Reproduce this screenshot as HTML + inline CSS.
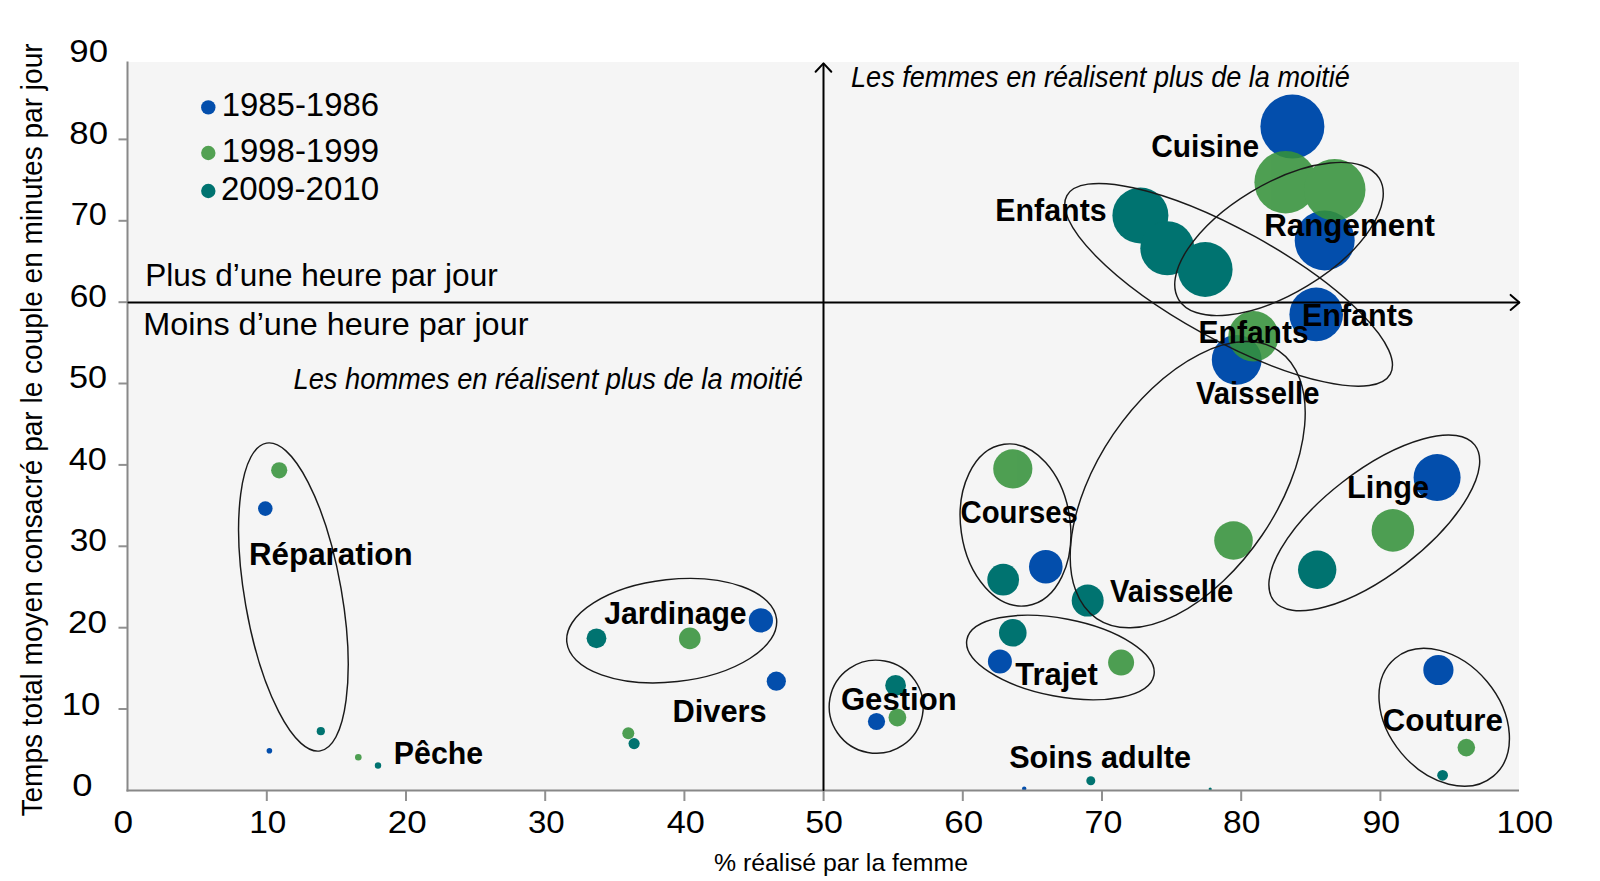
<!DOCTYPE html><html><head><meta charset="utf-8"><style>html,body{margin:0;padding:0;background:#fff;overflow:hidden}svg{display:block}text{font-family:"Liberation Sans", Arial, sans-serif}</style></head><body>
<svg width="1600" height="881" viewBox="0 0 1600 881">
<rect width="1600" height="881" fill="#fff"/>
<rect x="127.5" y="62" width="1391.5" height="728.4" fill="#f5f5f5"/>
<circle cx="1292.4" cy="126.6" r="32.0" fill="#034eac"/>
<circle cx="1324.7" cy="240.4" r="30.0" fill="#034eac"/>
<circle cx="1316.2" cy="314.4" r="26.8" fill="#034eac"/>
<circle cx="1236.7" cy="359.8" r="24.9" fill="#034eac"/>
<circle cx="1437.1" cy="477.6" r="23.5" fill="#034eac"/>
<circle cx="1045.8" cy="566.7" r="16.8" fill="#034eac"/>
<circle cx="999.9" cy="661.6" r="12.0" fill="#034eac"/>
<circle cx="760.9" cy="620.4" r="12.1" fill="#034eac"/>
<circle cx="776.3" cy="681.2" r="9.6" fill="#034eac"/>
<circle cx="876.5" cy="721.5" r="8.6" fill="#034eac"/>
<circle cx="1438.4" cy="670.0" r="15.1" fill="#034eac"/>
<circle cx="265.3" cy="508.6" r="7.3" fill="#034eac"/>
<circle cx="269.4" cy="750.8" r="2.8" fill="#034eac"/>
<circle cx="1024.2" cy="788.8" r="2.2" fill="#034eac"/>
<g opacity="0.87">
<circle cx="1285.6" cy="182.2" r="31.2" fill="#35923a"/>
<circle cx="1334.7" cy="189.8" r="30.8" fill="#35923a"/>
<circle cx="1253.5" cy="336.2" r="25.2" fill="#35923a"/>
<circle cx="1233.5" cy="540.5" r="19.3" fill="#35923a"/>
<circle cx="1392.9" cy="530.4" r="21.3" fill="#35923a"/>
<circle cx="1012.8" cy="468.8" r="19.6" fill="#35923a"/>
<circle cx="1121.1" cy="662.6" r="13.0" fill="#35923a"/>
<circle cx="689.8" cy="638.4" r="10.8" fill="#35923a"/>
<circle cx="897.4" cy="717.5" r="8.9" fill="#35923a"/>
<circle cx="279.2" cy="470.3" r="8.1" fill="#35923a"/>
<circle cx="628.3" cy="733.3" r="6.0" fill="#35923a"/>
<circle cx="358.3" cy="757.3" r="3.3" fill="#35923a"/>
<circle cx="1466.3" cy="747.6" r="8.8" fill="#35923a"/>
</g>
<circle cx="1140.4" cy="215.5" r="28.0" fill="#007370"/>
<circle cx="1167.3" cy="248.3" r="27.0" fill="#007370"/>
<circle cx="1205.2" cy="269.5" r="27.4" fill="#007370"/>
<circle cx="1003.2" cy="579.7" r="15.9" fill="#007370"/>
<circle cx="1087.7" cy="600.6" r="16.0" fill="#007370"/>
<circle cx="1317.2" cy="569.8" r="19.2" fill="#007370"/>
<circle cx="1012.8" cy="632.8" r="13.8" fill="#007370"/>
<circle cx="895.6" cy="685.4" r="10.4" fill="#007370"/>
<circle cx="596.5" cy="638.3" r="9.9" fill="#007370"/>
<circle cx="634.1" cy="743.6" r="5.6" fill="#007370"/>
<circle cx="320.8" cy="731.2" r="4.1" fill="#007370"/>
<circle cx="378.0" cy="765.5" r="3.2" fill="#007370"/>
<circle cx="1090.8" cy="780.7" r="4.5" fill="#007370"/>
<circle cx="1442.6" cy="775.3" r="5.4" fill="#007370"/>
<circle cx="1210.2" cy="789.0" r="1.6" fill="#007370"/>
<g stroke="#888" stroke-width="2" fill="none">
<line x1="127.5" y1="61.5" x2="127.5" y2="791.4"/>
<line x1="126.5" y1="790.4" x2="1519" y2="790.4"/>
</g>
<g stroke="#909090" stroke-width="2">
<line x1="118.5" y1="709.0" x2="127" y2="709.0"/>
<line x1="118.5" y1="627.7" x2="127" y2="627.7"/>
<line x1="118.5" y1="546.3" x2="127" y2="546.3"/>
<line x1="118.5" y1="464.9" x2="127" y2="464.9"/>
<line x1="118.5" y1="383.5" x2="127" y2="383.5"/>
<line x1="118.5" y1="302.2" x2="127" y2="302.2"/>
<line x1="118.5" y1="220.8" x2="127" y2="220.8"/>
<line x1="118.5" y1="139.4" x2="127" y2="139.4"/>
<line x1="266.8" y1="791" x2="266.8" y2="801"/>
<line x1="406.0" y1="791" x2="406.0" y2="801"/>
<line x1="545.2" y1="791" x2="545.2" y2="801"/>
<line x1="684.4" y1="791" x2="684.4" y2="801"/>
<line x1="823.6" y1="791" x2="823.6" y2="801"/>
<line x1="962.8" y1="791" x2="962.8" y2="801"/>
<line x1="1102.0" y1="791" x2="1102.0" y2="801"/>
<line x1="1241.2" y1="791" x2="1241.2" y2="801"/>
<line x1="1380.4" y1="791" x2="1380.4" y2="801"/>
</g>
<g stroke="#000" stroke-width="2" fill="none" stroke-linecap="round" stroke-linejoin="round">
<line x1="128.5" y1="302.4" x2="1519" y2="302.4"/>
<polyline points="1510.6,294.9 1519.4,302.4 1510.6,309.9"/>
<line x1="823.5" y1="790" x2="823.5" y2="64"/>
<polyline points="815.6,71.7 823.5,63.4 831.3,71.7"/>
</g>
<g stroke="#1a1a1a" stroke-width="1.45" fill="none">
<ellipse cx="293.4" cy="597.0" rx="156.2" ry="48.4" transform="rotate(80.1 293.4 597.0)"/>
<ellipse cx="671.7" cy="630.7" rx="105.5" ry="51.2" transform="rotate(-6.3 671.7 630.7)"/>
<ellipse cx="876.2" cy="706.7" rx="47.0" ry="46.5" transform="rotate(10.5 876.2 706.7)"/>
<ellipse cx="1015.5" cy="525.0" rx="81.5" ry="54.7" transform="rotate(81.9 1015.5 525.0)"/>
<ellipse cx="1060.4" cy="657.5" rx="95.2" ry="39.0" transform="rotate(10.8 1060.4 657.5)"/>
<ellipse cx="1444.2" cy="717.3" rx="76.7" ry="55.8" transform="rotate(50.1 1444.2 717.3)"/>
<ellipse cx="1374.3" cy="522.9" rx="127.1" ry="51.7" transform="rotate(-37.7 1374.3 522.9)"/>
<ellipse cx="1187.7" cy="484.7" rx="161.9" ry="89.9" transform="rotate(-55.8 1187.7 484.7)"/>
<ellipse cx="1228.6" cy="284.8" rx="184.7" ry="54.9" transform="rotate(28.9 1228.6 284.8)"/>
<ellipse cx="1279.0" cy="239.0" rx="117.2" ry="54.8" transform="rotate(-31.1 1279.0 239.0)"/>
</g>
<circle cx="208.3" cy="107.4" r="7.2" fill="#034eac"/>
<circle cx="208.3" cy="153.0" r="7.2" fill="#52a152"/>
<circle cx="208.3" cy="191.0" r="7.2" fill="#007370"/>
<text x="221.71" y="116.2" font-size="32.5" font-weight="normal" font-style="normal" textLength="157.35" lengthAdjust="spacingAndGlyphs" fill="#000">1985-1986</text>
<text x="221.71" y="161.9" font-size="32.5" font-weight="normal" font-style="normal" textLength="157.35" lengthAdjust="spacingAndGlyphs" fill="#000">1998-1999</text>
<text x="220.94" y="200.3" font-size="32.5" font-weight="normal" font-style="normal" textLength="158.12" lengthAdjust="spacingAndGlyphs" fill="#000">2009-2010</text>
<text x="69.38" y="62.2" font-size="31.5" font-weight="normal" font-style="normal" textLength="38.66" lengthAdjust="spacingAndGlyphs" fill="#000">90</text>
<text x="69.37" y="143.7" font-size="31.5" font-weight="normal" font-style="normal" textLength="38.66" lengthAdjust="spacingAndGlyphs" fill="#000">80</text>
<text x="70.79" y="225.2" font-size="31.5" font-weight="normal" font-style="normal" textLength="36.19" lengthAdjust="spacingAndGlyphs" fill="#000">70</text>
<text x="69.76" y="306.5" font-size="31.5" font-weight="normal" font-style="normal" textLength="37.23" lengthAdjust="spacingAndGlyphs" fill="#000">60</text>
<text x="68.94" y="388.0" font-size="31.5" font-weight="normal" font-style="normal" textLength="38.07" lengthAdjust="spacingAndGlyphs" fill="#000">50</text>
<text x="68.83" y="469.5" font-size="31.5" font-weight="normal" font-style="normal" textLength="38.09" lengthAdjust="spacingAndGlyphs" fill="#000">40</text>
<text x="69.76" y="551.0" font-size="31.5" font-weight="normal" font-style="normal" textLength="37.23" lengthAdjust="spacingAndGlyphs" fill="#000">30</text>
<text x="67.97" y="632.5" font-size="31.5" font-weight="normal" font-style="normal" textLength="39.02" lengthAdjust="spacingAndGlyphs" fill="#000">20</text>
<text x="61.72" y="714.7" font-size="31.5" font-weight="normal" font-style="normal" textLength="38.79" lengthAdjust="spacingAndGlyphs" fill="#000">10</text>
<text x="72.31" y="795.9" font-size="31.5" font-weight="normal" font-style="normal" textLength="20.27" lengthAdjust="spacingAndGlyphs" fill="#000">0</text>
<text x="113.56" y="833.4" font-size="31.5" font-weight="normal" font-style="normal" textLength="19.58" lengthAdjust="spacingAndGlyphs" fill="#000">0</text>
<text x="249.28" y="833.4" font-size="31.5" font-weight="normal" font-style="normal" textLength="37.05" lengthAdjust="spacingAndGlyphs" fill="#000">10</text>
<text x="387.74" y="833.4" font-size="31.5" font-weight="normal" font-style="normal" textLength="38.90" lengthAdjust="spacingAndGlyphs" fill="#000">20</text>
<text x="527.92" y="833.4" font-size="31.5" font-weight="normal" font-style="normal" textLength="36.80" lengthAdjust="spacingAndGlyphs" fill="#000">30</text>
<text x="666.68" y="833.4" font-size="31.5" font-weight="normal" font-style="normal" textLength="38.12" lengthAdjust="spacingAndGlyphs" fill="#000">40</text>
<text x="805.18" y="833.4" font-size="31.5" font-weight="normal" font-style="normal" textLength="37.79" lengthAdjust="spacingAndGlyphs" fill="#000">50</text>
<text x="944.38" y="833.4" font-size="31.5" font-weight="normal" font-style="normal" textLength="38.96" lengthAdjust="spacingAndGlyphs" fill="#000">60</text>
<text x="1084.59" y="833.4" font-size="31.5" font-weight="normal" font-style="normal" textLength="37.79" lengthAdjust="spacingAndGlyphs" fill="#000">70</text>
<text x="1223.02" y="833.4" font-size="31.5" font-weight="normal" font-style="normal" textLength="37.32" lengthAdjust="spacingAndGlyphs" fill="#000">80</text>
<text x="1362.51" y="833.4" font-size="31.5" font-weight="normal" font-style="normal" textLength="37.71" lengthAdjust="spacingAndGlyphs" fill="#000">90</text>
<text x="1496.53" y="833.4" font-size="31.5" font-weight="normal" font-style="normal" textLength="56.74" lengthAdjust="spacingAndGlyphs" fill="#000">100</text>
<text x="713.98" y="870.8" font-size="24.4" font-weight="normal" font-style="normal" textLength="254.07" lengthAdjust="spacingAndGlyphs" fill="#000">% réalisé par la femme</text>
<text transform="translate(41.5,816.6) rotate(-90)" x="0" y="0" font-size="28.6" textLength="773.2" lengthAdjust="spacingAndGlyphs">Temps total moyen consacré par le couple en minutes par jour</text>
<text x="145.18" y="285.9" font-size="30.5" font-weight="normal" font-style="normal" textLength="352.53" lengthAdjust="spacingAndGlyphs" fill="#000">Plus d’une heure par jour</text>
<text x="143.27" y="334.6" font-size="30.5" font-weight="normal" font-style="normal" textLength="385.15" lengthAdjust="spacingAndGlyphs" fill="#000">Moins d’une heure par jour</text>
<text x="293.49" y="388.5" font-size="29" font-weight="normal" font-style="italic" textLength="509.42" lengthAdjust="spacingAndGlyphs" fill="#000">Les hommes en réalisent plus de la moitié</text>
<text x="851.00" y="87.1" font-size="29" font-weight="normal" font-style="italic" textLength="498.81" lengthAdjust="spacingAndGlyphs" fill="#000">Les femmes en réalisent plus de la moitié</text>
<text x="1151.16" y="156.8" font-size="31" font-weight="bold" font-style="normal" textLength="107.87" lengthAdjust="spacingAndGlyphs" fill="#000">Cuisine</text>
<text x="995.29" y="220.6" font-size="31" font-weight="bold" font-style="normal" textLength="111.40" lengthAdjust="spacingAndGlyphs" fill="#000">Enfants</text>
<text x="1264.15" y="236.3" font-size="31" font-weight="bold" font-style="normal" textLength="170.68" lengthAdjust="spacingAndGlyphs" fill="#000">Rangement</text>
<text x="1301.91" y="326.2" font-size="31" font-weight="bold" font-style="normal" textLength="111.89" lengthAdjust="spacingAndGlyphs" fill="#000">Enfants</text>
<text x="1198.61" y="343.4" font-size="31" font-weight="bold" font-style="normal" textLength="109.97" lengthAdjust="spacingAndGlyphs" fill="#000">Enfants</text>
<text x="1195.98" y="403.9" font-size="31" font-weight="bold" font-style="normal" textLength="123.46" lengthAdjust="spacingAndGlyphs" fill="#000">Vaisselle</text>
<text x="1347.06" y="498.3" font-size="31" font-weight="bold" font-style="normal" textLength="82.01" lengthAdjust="spacingAndGlyphs" fill="#000">Linge</text>
<text x="960.53" y="522.8" font-size="31" font-weight="bold" font-style="normal" textLength="117.32" lengthAdjust="spacingAndGlyphs" fill="#000">Courses</text>
<text x="1109.98" y="601.5" font-size="31" font-weight="bold" font-style="normal" textLength="123.24" lengthAdjust="spacingAndGlyphs" fill="#000">Vaisselle</text>
<text x="248.95" y="565.0" font-size="31" font-weight="bold" font-style="normal" textLength="163.73" lengthAdjust="spacingAndGlyphs" fill="#000">Réparation</text>
<text x="604.15" y="623.9" font-size="31" font-weight="bold" font-style="normal" textLength="142.51" lengthAdjust="spacingAndGlyphs" fill="#000">Jardinage</text>
<text x="1015.18" y="684.6" font-size="31" font-weight="bold" font-style="normal" textLength="82.67" lengthAdjust="spacingAndGlyphs" fill="#000">Trajet</text>
<text x="672.48" y="722.1" font-size="31" font-weight="bold" font-style="normal" textLength="94.23" lengthAdjust="spacingAndGlyphs" fill="#000">Divers</text>
<text x="840.93" y="709.7" font-size="31" font-weight="bold" font-style="normal" textLength="115.78" lengthAdjust="spacingAndGlyphs" fill="#000">Gestion</text>
<text x="1382.55" y="731.4" font-size="31" font-weight="bold" font-style="normal" textLength="120.51" lengthAdjust="spacingAndGlyphs" fill="#000">Couture</text>
<text x="393.83" y="763.5" font-size="31" font-weight="bold" font-style="normal" textLength="89.28" lengthAdjust="spacingAndGlyphs" fill="#000">Pêche</text>
<text x="1009.17" y="768.2" font-size="31" font-weight="bold" font-style="normal" textLength="181.86" lengthAdjust="spacingAndGlyphs" fill="#000">Soins adulte</text>
</svg></body></html>
